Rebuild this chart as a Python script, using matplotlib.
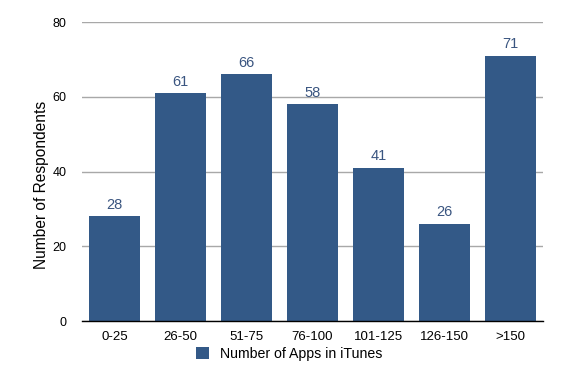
import matplotlib
matplotlib.use('Agg')
import matplotlib.pyplot as plt
import numpy as np

categories = ['0-25', '26-50', '51-75', '76-100', '101-125', '126-150', '>150']
respondents = [28, 61, 66, 58, 41, 26, 71]
yticks = [0, 20, 40, 60, 80]

bar_color = '#335987'
label_color = '#3a5580'

plt.rcParams['font.family'] = ['Liberation Sans', 'DejaVu Sans']

fig = plt.figure(figsize=(5.84, 3.73), dpi=100)
ax = fig.add_axes([0.140, 0.139, 0.790, 0.802])

x = np.arange(len(categories))
bars = ax.bar(x, respondents, width=0.77, color=bar_color, zorder=3, label='Number of Apps in iTunes')
for xi, v in zip(x, respondents):
    ax.text(xi, v + 1.2, str(v), ha='center', va='bottom', fontsize=10.5, color=label_color)

ax.set_xlim(-0.5, len(categories) - 0.5)
ax.set_ylim(0, 80)
ax.set_yticks(yticks)
ax.set_xticks(x)
ax.set_xticklabels(categories, fontsize=9.5)
ax.tick_params(axis='y', length=0, pad=11, labelsize=9)
ax.tick_params(axis='x', length=0, pad=7)
ax.grid(axis='y', color='#a8a8a8', linewidth=1.0, zorder=0)
for s in ['top', 'right', 'left']:
    ax.spines[s].set_visible(False)
ax.spines['bottom'].set_color('black')
ax.spines['bottom'].set_linewidth(1.0)
ax.spines['bottom'].set_zorder(4)
ax.set_ylabel('Number of Respondents', fontsize=11.2)
ax.yaxis.set_label_coords(-0.072, 0.455)

fig.legend(handles=[bars], loc='center', bbox_to_anchor=(0.495, 0.052), frameon=False,
           fontsize=10.2, handlelength=0.9, handleheight=0.9, handletextpad=0.8)

fig.savefig('out.png', dpi=100)
